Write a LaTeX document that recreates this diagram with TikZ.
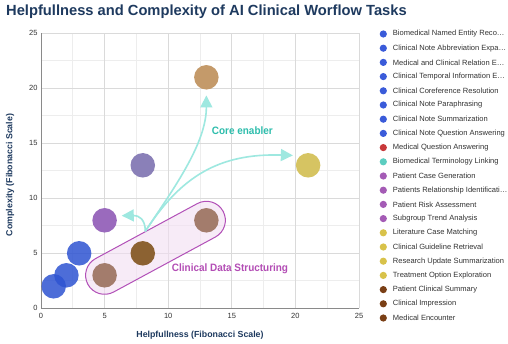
\documentclass[tikz,border=0pt]{standalone}
\usepackage{fontspec}
\setmainfont{Liberation Sans}
\usetikzlibrary{arrows.meta}
\definecolor{navy}{HTML}{1E3A5F}
\definecolor{gridmaj}{HTML}{DADADA}
\definecolor{gridmin}{HTML}{EDEDED}
\definecolor{axiscol}{HTML}{8A8A8A}
\definecolor{ticktxt}{HTML}{333333}
\definecolor{legtxt}{HTML}{333333}
\definecolor{cblue}{HTML}{2E54D2}
\definecolor{lblue}{HTML}{3A5BD9}
\definecolor{lred}{HTML}{C8383A}
\definecolor{lteal}{HTML}{5CCDC0}
\definecolor{lpurple}{HTML}{A45BB5}
\definecolor{lyellow}{HTML}{D8C24A}
\definecolor{lbrown}{HTML}{7A3F15}
\definecolor{arrowcol}{HTML}{9EE8E0}
\definecolor{coretxt}{HTML}{2DBDAC}
\definecolor{bandline}{HTML}{B250B8}
\definecolor{bandfill}{HTML}{F2DEF2}
\definecolor{bandtxt}{HTML}{B34DB5}
\begin{document}
\begin{tikzpicture}[x=1pt,y=1pt,
  pt/.style={circle, inner sep=0pt, minimum size=24.5pt},
  legmark/.style={circle, inner sep=0pt, minimum size=7.2pt},
  legtext/.style={anchor=west, inner sep=0pt, font=\fontsize{7.55}{9}\selectfont, text=legtxt},
  ticklab/.style={inner sep=0pt, font=\fontsize{7.5}{9}\selectfont, text=ticktxt},
  axtitle/.style={inner sep=0pt, font=\fontsize{8.8}{10}\selectfont\bfseries, text=navy},
  conn/.style={draw=arrowcol, line width=1.6pt, -{Triangle[length=12pt,width=12pt]}},
  ]
\useasboundingbox (0,0) rectangle (508,343);
\fill[white] (0,0) rectangle (508,343);
% title
\node[anchor=base west, inner sep=0pt, font=\fontsize{14.7}{17}\selectfont\bfseries, text=navy] (title) at (6,327)
  {Helpfullness and Complexity of AI Clinical Worflow Tasks};
% axis titles
\node[axtitle] (xt) at (200,8) {Helpfullness (Fibonacci Scale)};
\node[axtitle, rotate=90] (yt) at (10,168) {Complexity (Fibonacci Scale)};
\begin{scope}[shift={(41,34.7)}, x=12.72pt, y=11pt]
  \foreach \v in {2.5,7.5,12.5,17.5,22.5} {
    \draw[gridmin, line width=0.7pt] (\v,0) -- (\v,25);
    \draw[gridmin, line width=0.7pt] (0,\v) -- (25,\v);
  }
  \foreach \v in {5,10,15,20,25} {
    \draw[gridmaj, line width=0.7pt] (\v,0) -- (\v,25);
    \draw[gridmaj, line width=0.7pt] (0,\v) -- (25,\v);
  }
  \draw[axiscol, line width=0.8pt] (0,25) -- (0,0) -- (25,0);
  \foreach \v in {0,5,10,15,20,25} {
    \node[ticklab, anchor=east] at ([xshift=-3.3pt]0,\v) {\v};
    \node[ticklab] at ([yshift=-7.7pt]\v,0) {\v};
  }
  % band
  \node[draw=bandline, line width=1pt, fill=bandfill, fill opacity=0.6,
        rectangle, rounded corners=19pt, minimum width=153.7pt, minimum height=38pt,
        rotate=28.39, inner sep=0pt] (band) at (9,5.5) {};
  % points
  \node[pt, fill=cblue, fill opacity=0.85] (b1) at (1,2) {};
  \node[pt, fill=cblue, fill opacity=0.85] (b2) at (2,3) {};
  \node[pt, fill=cblue, fill opacity=0.85] (b3) at (3,5) {};
  \node[pt, fill={rgb,255:red,163;green,124;blue,108}] (c1) at (5,3) {};
  \node[pt, fill={rgb,255:red,140;green,98;blue,50}] (c2) at (8,5) {};
  \node[pt, fill={rgb,255:red,163;green,124;blue,108}] (c3) at (13,8) {};
  \node[pt, fill={rgb,255:red,154;green,106;blue,189}] (p1) at (5,8) {};
  \node[pt, fill={rgb,255:red,138;green,128;blue,184}] (p2) at (8,13) {};
  \node[pt, fill={rgb,255:red,196;green,154;blue,106}] (o1) at (13,21) {};
  \node[pt, fill={rgb,255:red,214;green,196;blue,98}] (y1) at (21,13) {};
  % connectors
  \coordinate (src) at (8.2,7);
  \coordinate (t1) at (13,19.35);
  \coordinate (t2) at (19.8,13.9);
  \coordinate (t3) at (6.35,8.42);
  \draw[conn] (src) .. controls (10.5,11) and (13,15) .. (t1);
  \draw[conn] (src) .. controls (11,12) and (14,14.1) .. (t2);
  \draw[conn] (src) .. controls (8.2,8.1) and (7.7,8.45) .. (t3);
  % labels
  \node[inner sep=0pt, text=coretxt, font=\fontsize{10.7}{12}\selectfont\bfseries] (core) at (15.83,16.12) {\scalebox{0.93}[1]{Core enabler}};
  \node[inner sep=0pt, text=bandtxt, font=\fontsize{10.7}{12}\selectfont\bfseries] (cds) at (14.86,3.64) {\scalebox{0.93}[1]{Clinical Data Structuring}};
\end{scope}
% legend
\foreach \i/\c/\t in {
  0/lblue/{Biomedical Named Entity Reco…},
  1/lblue/{Clinical Note Abbreviation Expa…},
  2/lblue/{Medical and Clinical Relation E…},
  3/lblue/{Clinical Temporal Information E…},
  4/lblue/{Clinical Coreference Resolution},
  5/lblue/{Clinical Note Paraphrasing},
  6/lblue/{Clinical Note Summarization},
  7/lblue/{Clinical Note Question Answering},
  8/lred/{Medical Question Answering},
  9/lteal/{Biomedical Terminology Linking},
  10/lpurple/{Patient Case Generation},
  11/lpurple/{Patients Relationship Identificati…},
  12/lpurple/{Patient Risk Assessment},
  13/lpurple/{Subgroup Trend Analysis},
  14/lyellow/{Literature Case Matching},
  15/lyellow/{Clinical Guideline Retrieval},
  16/lyellow/{Research Update Summarization},
  17/lyellow/{Treatment Option Exploration},
  18/lbrown/{Patient Clinical Summary},
  19/lbrown/{Clinical Impression},
  20/lbrown/{Medical Encounter}} {
  \node[legmark, fill=\c] (lm\i) at (383.3,309-14.2*\i) {};
  \node[legtext] (lt\i) at (392.7,309-14.2*\i) {\t};
}
\end{tikzpicture}
\end{document}
